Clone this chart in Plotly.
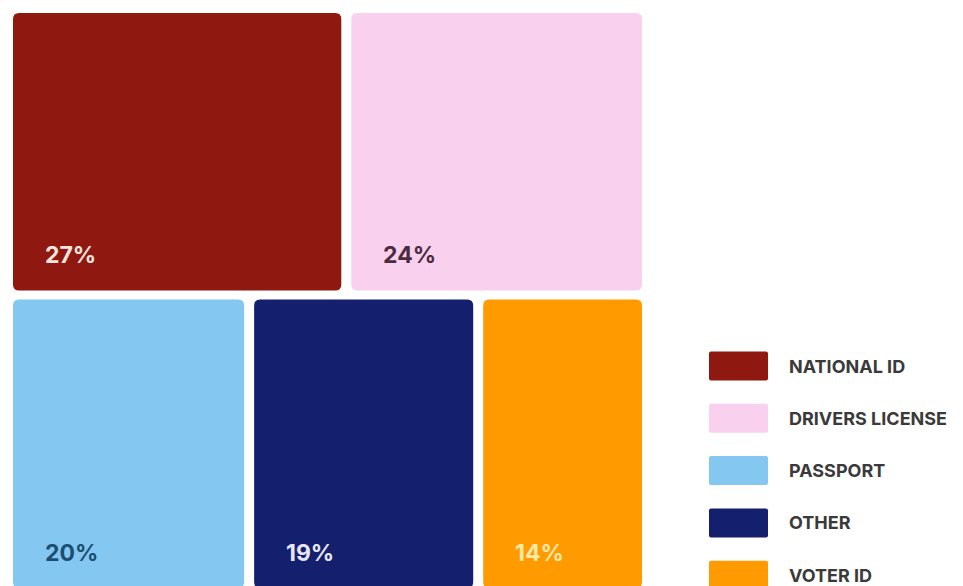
import plotly.graph_objects as go

# ---- data ----
categories = ["NATIONAL ID", "DRIVERS LICENSE", "PASSPORT", "OTHER", "VOTER ID"]
values = [27, 24, 20, 19, 14]
labels = ["27%", "24%", "20%", "19%", "14%"]
colors = ["#8F1911", "#F9D1EE", "#84C8F1", "#141F6D", "#FF9B00"]
label_colors = ["#F6E4DE", "#4A2B41", "#1D4E72", "#E8E6F4", "#FFE9A6"]
rows = [[0, 1], [2, 3, 4]]

# ---- layout constants (pixels) ----
W, H = 963, 586
X0, X1 = 13, 652
Y0, TOTAL_H = 13, 584
GAP = 10
VGAP = 9
R = 6


def rrect(x0, y0, x1, y1, r):
    return (f"M{x0+r},{y0} L{x1-r},{y0} Q{x1},{y0} {x1},{y0+r} "
            f"L{x1},{y1-r} Q{x1},{y1} {x1-r},{y1} L{x0+r},{y1} "
            f"Q{x0},{y1} {x0},{y1-r} L{x0},{y0+r} Q{x0},{y0} {x0+r},{y0} Z")


shapes = []
annotations = []
total = sum(values)
y = Y0
for row in rows:
    rsum = sum(values[i] for i in row)
    rh = TOTAL_H * rsum / total
    x = X0
    for i in row:
        cw = (X1 - X0) * values[i] / rsum
        bx0, bx1 = x, x + cw - GAP
        by0, by1 = y, y + rh - VGAP
        shapes.append(dict(type="path", path=rrect(bx0, by0, bx1, by1, R),
                           xref="x", yref="y", fillcolor=colors[i],
                           line=dict(width=0), layer="below"))
        annotations.append(dict(x=bx0 + 30, y=by1 - 35, xref="x", yref="y",
                                text=f"<b>{labels[i]}</b>", showarrow=False,
                                xanchor="left", yanchor="middle",
                                font=dict(family="Inter", size=23, color=label_colors[i])))
        x += cw
    y += rh

# legend drawn as swatches + text
LX0, LX1, LY, LSTEP, LH = 709, 768, 366, 52.3, 29
for k, name in enumerate(categories):
    cy = LY + k * LSTEP
    shapes.append(dict(type="path", path=rrect(LX0, cy - LH / 2, LX1, cy + LH / 2, 2),
                       xref="x", yref="y", fillcolor=colors[k],
                       line=dict(width=0)))
    annotations.append(dict(x=787, y=cy, xref="x", yref="y", text=f"<b>{name}</b>",
                            showarrow=False, xanchor="left", yanchor="middle",
                            font=dict(family="Inter", size=18, color="#3A3A3A")))

fig = go.Figure()
fig.add_trace(go.Scatter(x=[0, W], y=[0, H], mode="markers",
                         marker=dict(opacity=0), hoverinfo="skip", showlegend=False))
fig.update_layout(
    width=W, height=H, margin=dict(l=0, r=0, t=0, b=0),
    paper_bgcolor="white", plot_bgcolor="white",
    xaxis=dict(range=[0, W], visible=False, fixedrange=True),
    yaxis=dict(range=[H, 0], visible=False, fixedrange=True),
    shapes=shapes, annotations=annotations, showlegend=False,
)
fig.write_html("out.html")
